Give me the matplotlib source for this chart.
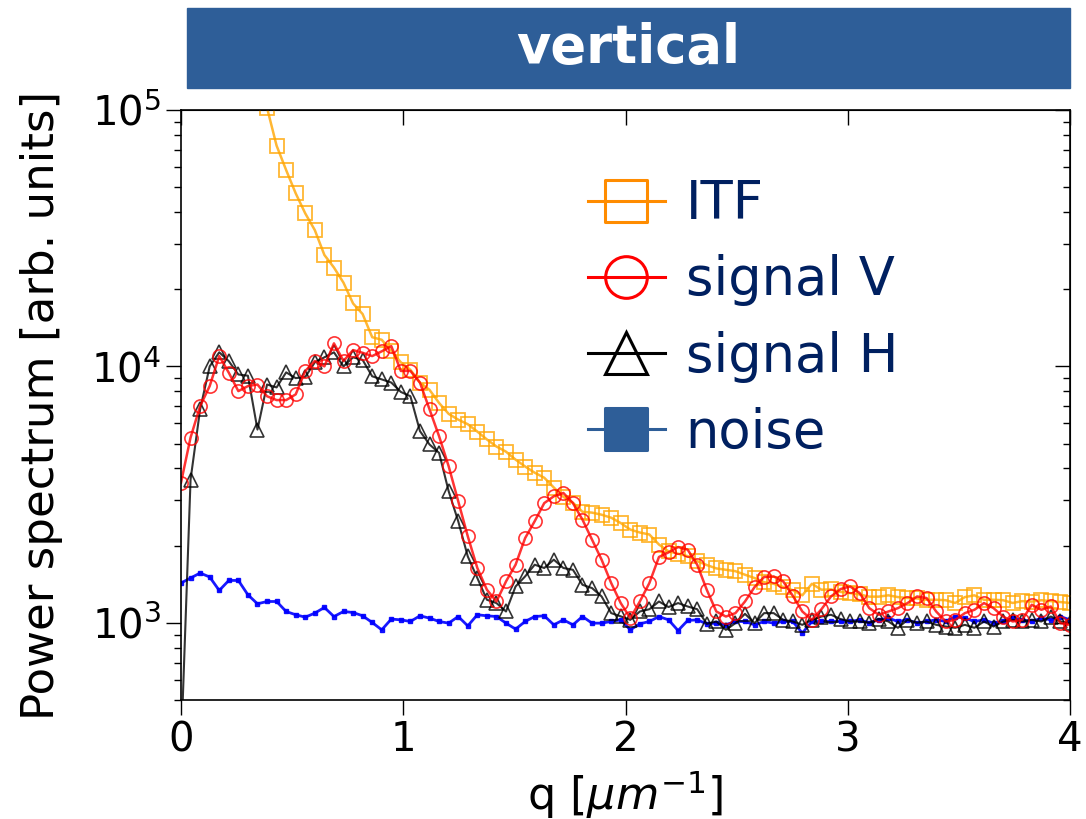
import numpy as np
import matplotlib
matplotlib.use("Agg")
from matplotlib import pyplot as plt
from matplotlib.lines import Line2D
from matplotlib.markers import MarkerStyle
from matplotlib.patches import Rectangle

# q axis: 94 samples from 0 to 4 um^-1
q = np.linspace(0, 4, 94)

itf = [2.5e6, 1.6e6, 1.05e6, 7.2e5, 5.0e5, 3.5e5, 2.5e5, 1.85e5, 1.38e5, 1.02e5,
       72600, 58300, 47300, 39500, 34000, 27200, 24300, 21200, 17600, 16000,
       13000, 12700, 11500, 10370, 9700, 8650, 8100, 7200, 6530, 6200,
       5950, 5570, 5190, 4870, 4650, 4330, 4070, 3850, 3680, 3370,
       3100, 2940, 2710, 2690, 2640, 2570, 2450, 2310, 2250, 2210,
       2020, 1900, 1860, 1820, 1740, 1680, 1630, 1610, 1590, 1540,
       1495, 1440, 1420, 1380, 1340, 1280, 1420, 1346, 1350, 1320,
       1306, 1290, 1265, 1265, 1280, 1260, 1250, 1245, 1230, 1230,
       1225, 1195, 1260, 1280, 1230, 1230, 1225, 1195, 1215, 1210,
       1225, 1215, 1205, 1195]

signal_v = [3520, 5280, 7000, 8380, 10970, 9450, 8010, 8380, 8500, 7650,
            7390, 7390, 7780, 9600, 10500, 10000, 12300, 10500, 11580, 11300,
            10970, 11450, 12000, 9600, 9600, 8640, 6800, 5340, 4080, 2980,
            2175, 1636, 1346, 1211, 1450, 1685, 2140, 2490, 2930, 3115,
            3210, 2930, 2525, 2110, 1763, 1430, 1194, 1043, 1211, 1430,
            1806, 1882, 1975, 1930, 1685, 1346, 1107, 1058, 1091, 1211,
            1378, 1509, 1517, 1450, 1275, 1107, 1027, 1130, 1267, 1354,
            1386, 1306, 1141, 1075, 1107, 1141, 1194, 1267, 1249, 1107,
            1012, 1027, 1091, 1124, 1194, 1141, 1058, 1012, 1027, 1176,
            1124, 1158, 997, 982]

signal_h = [320, 3620, 6800, 10000, 11350, 10480, 9300, 9200, 5670, 8500,
            8280, 9480, 9000, 9100, 10370, 10850, 11350, 10000, 10850, 10600,
            9150, 8900, 8650, 7950, 7650, 5590, 4960, 4600, 3260, 2490,
            1815, 1495, 1230, 1194, 1107, 1386, 1517, 1685, 1636, 1763,
            1636, 1610, 1407, 1366, 1267, 1091, 1060, 1027, 1107, 1130,
            1211, 1152, 1194, 1158, 1130, 991, 1012, 939, 997, 1084,
            997, 1091, 1091, 1027, 1012, 982, 1027, 1058, 1075, 1034,
            1012, 1012, 1000, 1036, 1012, 956, 1027, 1000, 1012, 982,
            967, 956, 982, 956, 1012, 967, 1012, 1027, 1012, 1027,
            1012, 1058, 1012, 1000]

noise = [1430, 1495, 1564, 1509, 1337, 1463, 1463, 1286, 1186, 1211,
         1211, 1107, 1075, 1052, 1091, 1148, 1058, 1107, 1097, 1065,
         1003, 939, 1034, 1027, 1012, 1065, 1043, 1012, 997, 1058,
         973, 1075, 1065, 1058, 997, 945, 1012, 1058, 1065, 982,
         1027, 982, 1058, 997, 997, 1012, 1027, 939, 991, 1012,
         1058, 1027, 933, 1021, 1027, 991, 997, 982, 1012, 1012,
         982, 1012, 997, 1012, 1012, 912, 1012, 1012, 1012, 1012,
         1012, 1027, 1000, 1027, 1043, 1012, 1027, 997, 1012, 1027,
         1012, 1058, 1043, 1012, 1027, 997, 1012, 1043, 1027, 1012,
         1043, 1027, 1058, 1027]

labels = ["ITF", "signal V", "signal H", "noise"]
xticks = [0, 1, 2, 3, 4]

BAR_BLUE = "#2E5E98"
NAVY = "#002060"

fig = plt.figure(figsize=(10.86, 8.19), dpi=100)
ax = fig.add_axes([181/1086, 1-700/819, 889/1086, 590/819])

ax.plot(q, noise, color="blue", marker="s", ms=3.5, lw=2, alpha=0.9)
ax.plot(q, itf, color="orange", marker="s", ms=9.5, mfc="none", mew=1.3, lw=1.8, alpha=0.8)
ax.plot(q, signal_h, color="black", marker="^", ms=9.5, mfc="none", mew=1.2, lw=1.5, alpha=0.8)
ax.plot(q, signal_v, color="red", marker="o", ms=9.5, mfc="none", mew=1.2, lw=1.8, alpha=0.8)

ax.set_yscale("log")
ax.set_xlim(0, 4)
ax.set_ylim(500, 1e5)
ax.set_xticks(xticks)
ax.tick_params(which="major", direction="out", length=11, width=1, labelsize=29)
ax.tick_params(which="minor", direction="out", length=5, width=1)
for s in ax.spines.values():
    s.set_linewidth(1.2)

top = ax.secondary_xaxis("top")
top.set_xticks(xticks)
top.tick_params(direction="in", length=11, width=1, labeltop=False)
right = ax.secondary_yaxis("right")
right.tick_params(which="major", direction="in", length=11, width=1, labelright=False)
right.tick_params(which="minor", direction="in", length=5, width=1, labelright=False)

ax.set_xlabel(r"q [$\mu m^{-1}$]", fontsize=32, labelpad=6)
ax.set_ylabel("Power spectrum [arb. units]", fontsize=32.5, labelpad=20)

# title bar
fig.patches.append(Rectangle((187/1086, 1-88/819), 883/1086, 80/819,
                             transform=fig.transFigure, color=BAR_BLUE, zorder=0))
fig.text(628/1086, 1-48/819, "vertical", color="white", fontsize=38,
         fontweight="bold", ha="center", va="center")

sq = MarkerStyle("s", joinstyle="round")
handles = [
    Line2D([], [], color="#FF8C00", marker=sq, ms=30, mfc="none", mew=2.2, lw=2.2),
    Line2D([], [], color="red", marker="o", ms=30, mfc="none", mew=2.2, lw=2.2),
    Line2D([], [], color="black", marker="^", ms=30, mfc="none", mew=2.2, lw=2.2),
    Line2D([], [], color=BAR_BLUE, marker=sq, ms=30, mfc=BAR_BLUE, mew=2.2, lw=2.2),
]
fig.legend(handles, labels, loc="upper left", bbox_to_anchor=(588/1086, 1-178/819),
           frameon=False, fontsize=38, labelcolor=NAVY, handlelength=1.45,
           handletextpad=0.4, labelspacing=0.46, borderpad=0, borderaxespad=0)

fig.savefig("out.png", dpi=100)
